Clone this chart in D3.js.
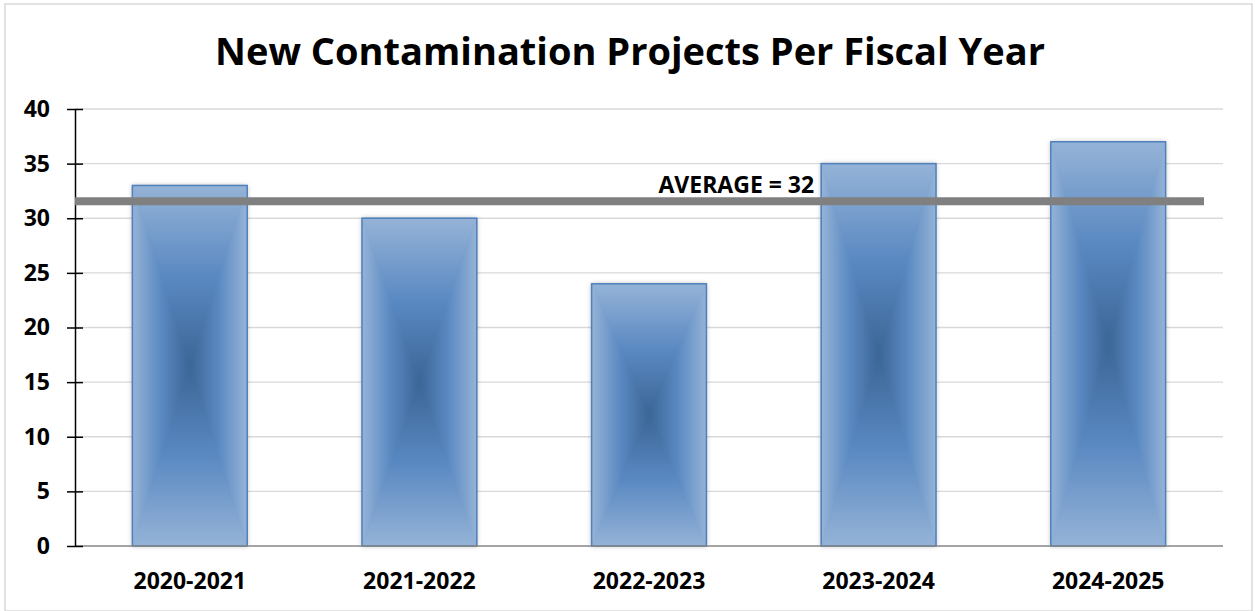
<!DOCTYPE html>
<meta charset="utf-8">
<title>New Contamination Projects Per Fiscal Year</title>
<style>
    body { margin: 0; background: #fff; }
    text { font-family: "Open Sans", sans-serif; font-weight: bold; fill: #000; }
    .grid line { stroke: #d9d9d9; stroke-width: 1.3px; }
</style>

<svg width="1255" height="611"></svg>

<script src="https://d3js.org/d3.v7.min.js"></script>
<script>

    // chart data
    var years = ["2020-2021", "2021-2022", "2022-2023", "2023-2024", "2024-2025"];
    var projects = [33, 30, 24, 35, 37];
    var yTicks = [0, 5, 10, 15, 20, 25, 30, 35, 40];
    var averageLine = 31.55;
    var averageLabel = "AVERAGE = 32";
    var title = "New Contamination Projects Per Fiscal Year";

    var svg = d3.select("svg"),
        width = +svg.attr("width"),
        height = +svg.attr("height");

    var margin = { top: 109, right: 32, bottom: 65, left: 75 };
    var plotW = width - margin.left - margin.right,
        plotH = height - margin.top - margin.bottom;

    // outer chart frame
    svg.append("rect")
        .attr("x", 5).attr("y", 4)
        .attr("width", width - 8).attr("height", height - 4)
        .attr("fill", "#fff")
        .attr("stroke", "#d9d9d9")
        .attr("stroke-width", 1.5);

    svg.append("text")
        .attr("x", 630)
        .attr("y", 65)
        .attr("text-anchor", "middle")
        .style("font-size", "38px")
        .text(title);

    var defs = svg.append("defs");

    // edge-to-centre gradients (like Excel's rectangle path gradient)
    function addGrad(id, x1, y1, x2, y2) {
        var g = defs.append("linearGradient").attr("id", id)
            .attr("x1", x1).attr("y1", y1).attr("x2", x2).attr("y2", y2);
        g.append("stop").attr("offset", "0%").attr("stop-color", "#95b3d7");
        g.append("stop").attr("offset", "50%").attr("stop-color", "#5a89c2");
        g.append("stop").attr("offset", "100%").attr("stop-color", "#3b6596");
    }
    addGrad("g-top", 0, 0, 0, 1);
    addGrad("g-bottom", 0, 1, 0, 0);
    addGrad("g-left", 0, 0, 1, 0);
    addGrad("g-right", 1, 0, 0, 0);

    var shadow = defs.append("filter").attr("id", "shadow")
        .attr("x", "-20%").attr("y", "-5%").attr("width", "140%").attr("height", "110%");
    shadow.append("feDropShadow")
        .attr("dx", 0).attr("dy", 0)
        .attr("stdDeviation", 2.5)
        .attr("flood-color", "#000")
        .attr("flood-opacity", 0.3);

    var g = svg.append("g")
        .attr("transform", "translate(" + margin.left + "," + margin.top + ")");

    var x = d3.scaleBand()
        .domain(years)
        .range([0, plotW])
        .paddingInner(0.5)
        .paddingOuter(0.25);

    var y = d3.scaleLinear()
        .domain([0, 40])
        .range([plotH, 0]);

    // gridlines
    g.append("g")
        .attr("class", "grid")
        .selectAll("line")
        .data(yTicks.slice(1))
        .enter().append("line")
        .attr("x1", 0)
        .attr("x2", plotW)
        .attr("y1", function (d) { return y(d); })
        .attr("y2", function (d) { return y(d); });

    // bars
    var bars = g.append("g")
        .selectAll("g")
        .data(projects)
        .enter().append("g");

    bars.append("rect")
        .attr("x", function (d, i) { return x(years[i]); })
        .attr("y", function (d) { return y(d); })
        .attr("width", x.bandwidth())
        .attr("height", function (d) { return y(0) - y(d); })
        .attr("fill", "#5a89c2")
        .attr("filter", "url(#shadow)");

    bars.each(function (d, i) {
        var x0 = x(years[i]), x1 = x0 + x.bandwidth(),
            y0 = y(d), y1 = y(0),
            cx = (x0 + x1) / 2, cy = (y0 + y1) / 2;
        var parts = [
            ["g-top", [[x0, y0], [x1, y0], [cx, cy]]],
            ["g-bottom", [[x0, y1], [x1, y1], [cx, cy]]],
            ["g-left", [[x0, y0], [x0, y1], [cx, cy]]],
            ["g-right", [[x1, y0], [x1, y1], [cx, cy]]]
        ];
        var sel = d3.select(this);
        parts.forEach(function (p) {
            sel.append("path")
                .attr("d", "M" + p[1].join("L") + "Z")
                .attr("fill", "url(#" + p[0] + ")")
                .attr("stroke", "url(#" + p[0] + ")")
                .attr("stroke-width", 0.6);
        });
        sel.append("rect")
            .attr("x", x0).attr("y", y0)
            .attr("width", x1 - x0).attr("height", y1 - y0)
            .attr("fill", "none")
            .attr("stroke", "#4f81bd")
            .attr("stroke-width", 1.5);
    });

    // x axis line
    g.append("line")
        .attr("x1", 0).attr("x2", plotW)
        .attr("y1", y(0)).attr("y2", y(0))
        .attr("stroke", "#868686")
        .attr("stroke-width", 1.5);

    // y axis
    var yAxis = g.append("g")
        .call(d3.axisLeft(y).tickValues(yTicks).tickSize(8).tickPadding(17).tickSizeOuter(0));
    yAxis.select(".domain").attr("stroke", "#000").attr("stroke-width", 1.5);
    yAxis.selectAll(".tick line")
        .attr("x1", -8).attr("x2", 8)
        .attr("stroke", "#000").attr("stroke-width", 1.5);
    yAxis.selectAll(".tick text")
        .attr("fill", "#000")
        .style("font-family", "'Open Sans', sans-serif")
        .style("font-weight", "bold")
        .style("font-size", "23px");

    // x axis labels
    var xAxis = g.append("g")
        .attr("transform", "translate(0," + plotH + ")")
        .call(d3.axisBottom(x).tickSize(0).tickPadding(27));
    xAxis.select(".domain").remove();
    xAxis.selectAll(".tick text")
        .attr("fill", "#000")
        .style("font-family", "'Open Sans', sans-serif")
        .style("font-weight", "bold")
        .style("font-size", "23px");

    // average line
    g.append("line")
        .attr("x1", 0)
        .attr("x2", plotW - 19)
        .attr("y1", y(averageLine))
        .attr("y2", y(averageLine))
        .attr("stroke", "#808080")
        .attr("stroke-width", 8);

    g.append("text")
        .attr("x", x(years[3]) - 7)
        .attr("y", y(averageLine) - 8)
        .attr("text-anchor", "end")
        .style("font-size", "23px")
        .text(averageLabel);

</script>
